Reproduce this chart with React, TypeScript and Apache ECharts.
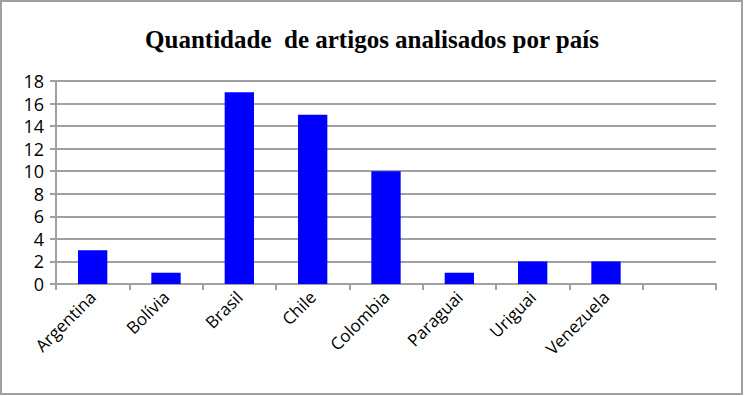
import React, { useEffect, useRef } from "react";
import * as echarts from "echarts";

const titleText = "Quantidade  de artigos analisados por país";
const categories = ["Argentina", "Bolívia", "Brasil", "Chile", "Colombia", "Paraguai", "Uriguai", "Venezuela", ""];
const values: (number | null)[] = [3, 1, 17, 15, 10, 1, 2, 2, null];
const yTicks = { min: 0, max: 18, interval: 2 };

export default function App() {
  const ref = useRef<HTMLDivElement>(null);
  useEffect(() => {
    if (!ref.current) return;
    const chart = echarts.init(ref.current, null, { renderer: "svg" });
    chart.setOption({
      animation: false,
      backgroundColor: "#ffffff",
      title: {
        text: titleText,
        left: "center",
        top: 22,
        textStyle: { fontFamily: "Liberation Serif", fontWeight: "bold", fontSize: 25, color: "#000" },
      },
      graphic: [
        {
          type: "rect",
          shape: { x: 1, y: 1, width: 741, height: 393 },
          style: { fill: "none", stroke: "#a0a0a0", lineWidth: 2 },
          silent: true,
        },
      ],
      grid: { left: 56, right: 28, top: 81, bottom: 112 },
      xAxis: {
        type: "category",
        data: categories,
        boundaryGap: true,
        axisLine: { lineStyle: { color: "#a0a0a0", width: 2 } },
        axisTick: { show: true, length: 6, lineStyle: { color: "#a0a0a0", width: 2 } },
        axisLabel: {
          rotate: 45,
          interval: 0,
          margin: 10,
          fontFamily: "Open Sans",
          fontSize: 17,
          color: "#000",
        },
      },
      yAxis: {
        type: "value",
        min: yTicks.min,
        max: yTicks.max,
        interval: yTicks.interval,
        axisLine: { show: true, lineStyle: { color: "#a0a0a0", width: 2 } },
        axisTick: { show: true, length: 6, lineStyle: { color: "#a0a0a0", width: 2 } },
        splitLine: { lineStyle: { color: "#a0a0a0", width: 2 } },
        axisLabel: { fontFamily: "Open Sans", fontSize: 18, color: "#000", margin: 12 },
      },
      series: [
        {
          type: "bar",
          data: values,
          barWidth: "40%",
          itemStyle: { color: "#0000ff" },
        },
      ],
    });
    return () => chart.dispose();
  }, []);
  return <div ref={ref} style={{ position: "fixed", left: 0, top: 0, width: 744, height: 396 }} />;
}
